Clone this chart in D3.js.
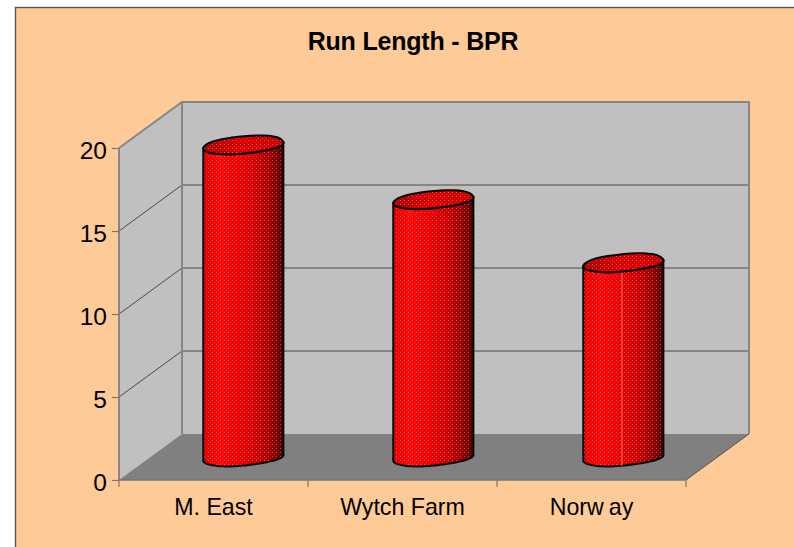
<!DOCTYPE html>
<html>
<head>
<meta charset="utf-8">
<script src="https://cdnjs.cloudflare.com/ajax/libs/d3/7.8.5/d3.min.js"></script>
<style>
html,body{margin:0;padding:0;background:#fff;overflow:hidden}
svg{display:block}
text{font-family:"Liberation Sans",Arial,sans-serif;fill:#000}
</style>
</head>
<body>
<svg id="chart" width="794" height="547"></svg>
<script>
const categories = ["M. East", "Wytch Farm", "Norway"];
const runLength = [18.8, 15.5, 11.7];
const yTicks = [0, 5, 10, 15, 20];
const chartTitle = "Run Length - BPR";
// Radial scale of the cylinder rims going round from the right-hand side
const rimLumps = [1.04, 0.95, 1.05, 1.05, 0.96, 1.03, 1.0, 1.04, 1.05, 1.04, 0.93, 0.98];

const svg = d3.select("#chart");

// Front plane of the 3-D box, plus the offset that reaches its back plane
const x = d3.scaleBand().domain(categories).range([119, 686]);
const y = d3.scaleLinear().domain([0, 20]).range([480, 148]);
const depth = { dx: 63, dy: -46 };
const [x0, x1] = x.range();
const [yBase, yTop] = y.range();

const line = d3.line();
const pt = (px, py, d = 0) => [px + depth.dx * d, py + depth.dy * d];

// Chart area
svg.append("rect").attr("x", 15.5).attr("y", 7.5).attr("width", 800).attr("height", 560)
  .attr("fill", "#fecb98").attr("stroke", "#5c5048").attr("stroke-width", 1.4);

svg.append("text").attr("x", 413).attr("y", 50).attr("text-anchor", "middle")
  .attr("font-size", 25).attr("font-weight", "bold").style("letter-spacing", "-0.2px").text(chartTitle);

// Walls and floor
const wall = "#c0c0c0", edge = "#868686";
svg.append("path")
  .attr("d", line([pt(x0, yBase, 1), pt(x1, yBase, 1), pt(x1, yTop, 1), pt(x0, yTop, 1)]) + "Z")
  .attr("fill", wall);
svg.append("path")
  .attr("d", line([pt(x0, yBase), pt(x0, yTop), pt(x0, yTop, 1), pt(x0, yBase, 1)]) + "Z")
  .attr("fill", wall);
svg.append("path")
  .attr("d", line([pt(x0, yBase), pt(x1, yBase), pt(x1, yBase, 1), pt(x0, yBase, 1)]) + "Z")
  .attr("fill", "#808080");

// Gridlines wrap from the side wall onto the back wall
yTicks.filter(t => t > 0 && t < 20).forEach(t => {
  svg.append("path").attr("fill", "none").attr("stroke", "#3c3c3c").attr("stroke-width", 0.9)
    .attr("d", line([pt(x0, y(t)), pt(x0, y(t), 1), pt(x1, y(t), 1)]));
});

// Box edges
const edgeLines = [
  [pt(x0, yTop), pt(x0, yTop, 1), pt(x1, yTop, 1), pt(x1, yBase, 1)],
  [pt(x0, yBase, 1), pt(x0, yTop, 1)]
];
edgeLines.forEach(l => svg.append("path").attr("fill", "none")
  .attr("stroke", edge).attr("stroke-width", 2).attr("d", line(l)));
svg.append("path").attr("fill", "none").attr("stroke", "#555").attr("stroke-width", 1)
  .attr("d", line([pt(x1, yBase), pt(x1, yBase, 1)]));
svg.append("path").attr("fill", "none").attr("stroke", "#777").attr("stroke-width", 1.6)
  .attr("d", line([pt(x0, yBase), pt(x1, yBase)]));
svg.append("path").attr("fill", "none").attr("stroke", "#777").attr("stroke-width", 1.6)
  .attr("d", line([pt(x0, yBase), pt(x0, yTop)]));

// Axes
const fontStack = '"Liberation Sans",Arial,sans-serif';
const yAxis = d3.axisLeft(y).tickValues(yTicks).tickSize(7).tickPadding(5);
const yG = svg.append("g").attr("transform", `translate(${x0},0)`).call(yAxis);
yG.select(".domain").remove();
yG.selectAll("line").attr("stroke", "#777").attr("stroke-width", 1.2);
yG.selectAll("text").attr("font-size", 24.5).attr("font-family", fontStack).attr("fill", "#000")
  .attr("dy", "0.42em");

const xG = svg.append("g").attr("transform", `translate(0,${yBase})`)
  .call(d3.axisBottom(x).tickSize(0).tickPadding(19));
xG.select(".domain").remove();
xG.selectAll("text").attr("font-size", 23.2).attr("font-family", fontStack).attr("fill", "#000")
  .each(function (d) {
    // The export spaces "Norway" unevenly after the w
    if (d === "Norway") {
      const t = d3.select(this).text("");
      t.append("tspan").text("Norw");
      t.append("tspan").attr("dx", 5).text("ay");
    }
  });
const boundaries = [...categories.map(c => x(c)), x1];
boundaries.forEach(b => svg.append("line").attr("x1", b).attr("x2", b)
  .attr("y1", yBase).attr("y2", yBase + 7).attr("stroke", "#777").attr("stroke-width", 1.2));

// Cylinder shading
const defs = svg.append("defs");
const body = defs.append("linearGradient").attr("id", "cylBody");
[[0, "#e40000"], [0.2, "#ff0808"], [0.45, "#f00000"], [0.65, "#d00000"], [0.82, "#a40000"], [0.94, "#700000"], [1, "#400000"]]
  .forEach(([o, c]) => body.append("stop").attr("offset", o).attr("stop-color", c));
const cap = defs.append("linearGradient").attr("id", "cylCap");
[[0, "#b00000"], [0.5, "#dc0000"], [1, "#c80000"]]
  .forEach(([o, c]) => cap.append("stop").attr("offset", o).attr("stop-color", c));
const dots = defs.append("pattern").attr("id", "cylDots").attr("patternUnits", "userSpaceOnUse")
  .attr("width", 4).attr("height", 4);
dots.append("rect").attr("x", 0).attr("y", 0).attr("width", 1).attr("height", 1).attr("fill", "#ffc8c8").attr("opacity", 0.4);
dots.append("rect").attr("x", 2).attr("y", 2).attr("width", 1).attr("height", 1).attr("fill", "#ffc8c8").attr("opacity", 0.2);

// A round footprint on the floor projects to a skewed ellipse; the lumps follow the coarse outline
const radiusX = 37.7, radiusDepth = 0.2;
const lump = d3.interpolateBasisClosed(rimLumps);
const rim = (cx, cy, t) => {
  const turn = ((t % (2 * Math.PI)) + 2 * Math.PI) % (2 * Math.PI) / (2 * Math.PI);
  const r = lump(turn);
  return [
    cx + r * (radiusX * Math.cos(t) + depth.dx * radiusDepth * Math.sin(t)),
    cy + r * depth.dy * radiusDepth * Math.sin(t)
  ];
};
const tLeft = Math.PI + Math.atan2(depth.dx * radiusDepth, radiusX);
const arc = (cx, cy, from, to) => d3.range(0, 41).map(i => rim(cx, cy, from + (to - from) * i / 40));

const bars = categories.map((c, i) => ({ c, v: runLength[i], i }));
const g = svg.append("g").selectAll("g").data(bars).join("g");
g.each(function (d) {
  const el = d3.select(this);
  const mid = x(d.c) + x.bandwidth() / 2 + depth.dx / 2 - 1;
  // The cylinders drift slightly right of their slots going along the axis
  const cx = mid + d.i;
  const by = yBase + depth.dy / 2;
  const ty = y(d.v) + depth.dy / 2;
  // Outline: front of the top rim, down the right side, back along the front of the base
  const baseFront = arc(cx, by, tLeft - 2 * Math.PI, tLeft - Math.PI);
  const topFront = arc(cx, ty, tLeft - 2 * Math.PI, tLeft - Math.PI);
  const shape = line([...topFront, ...baseFront.slice().reverse()]) + "Z";
  el.append("path").attr("d", shape).attr("fill", "url(#cylBody)");
  el.append("path").attr("d", shape).attr("fill", "url(#cylDots)");
  el.append("path").attr("d", shape).attr("fill", "none").attr("stroke", "#000").attr("stroke-width", 2).attr("stroke-linejoin", "round");
  if (d.c === "Norway") {
    el.append("line").attr("x1", mid).attr("x2", mid).attr("y1", ty + 9).attr("y2", by + 9)
      .attr("stroke", "#e89090").attr("stroke-width", 1).attr("opacity", 0.8);
  }
  const lid = line(arc(cx, ty, 0, 2 * Math.PI)) + "Z";
  el.append("path").attr("d", lid).attr("fill", "url(#cylCap)");
  el.append("path").attr("d", lid).attr("fill", "url(#cylDots)");
  el.append("path").attr("d", lid).attr("fill", "none").attr("stroke", "#000").attr("stroke-width", 2);
});
</script>
</body>
</html>
